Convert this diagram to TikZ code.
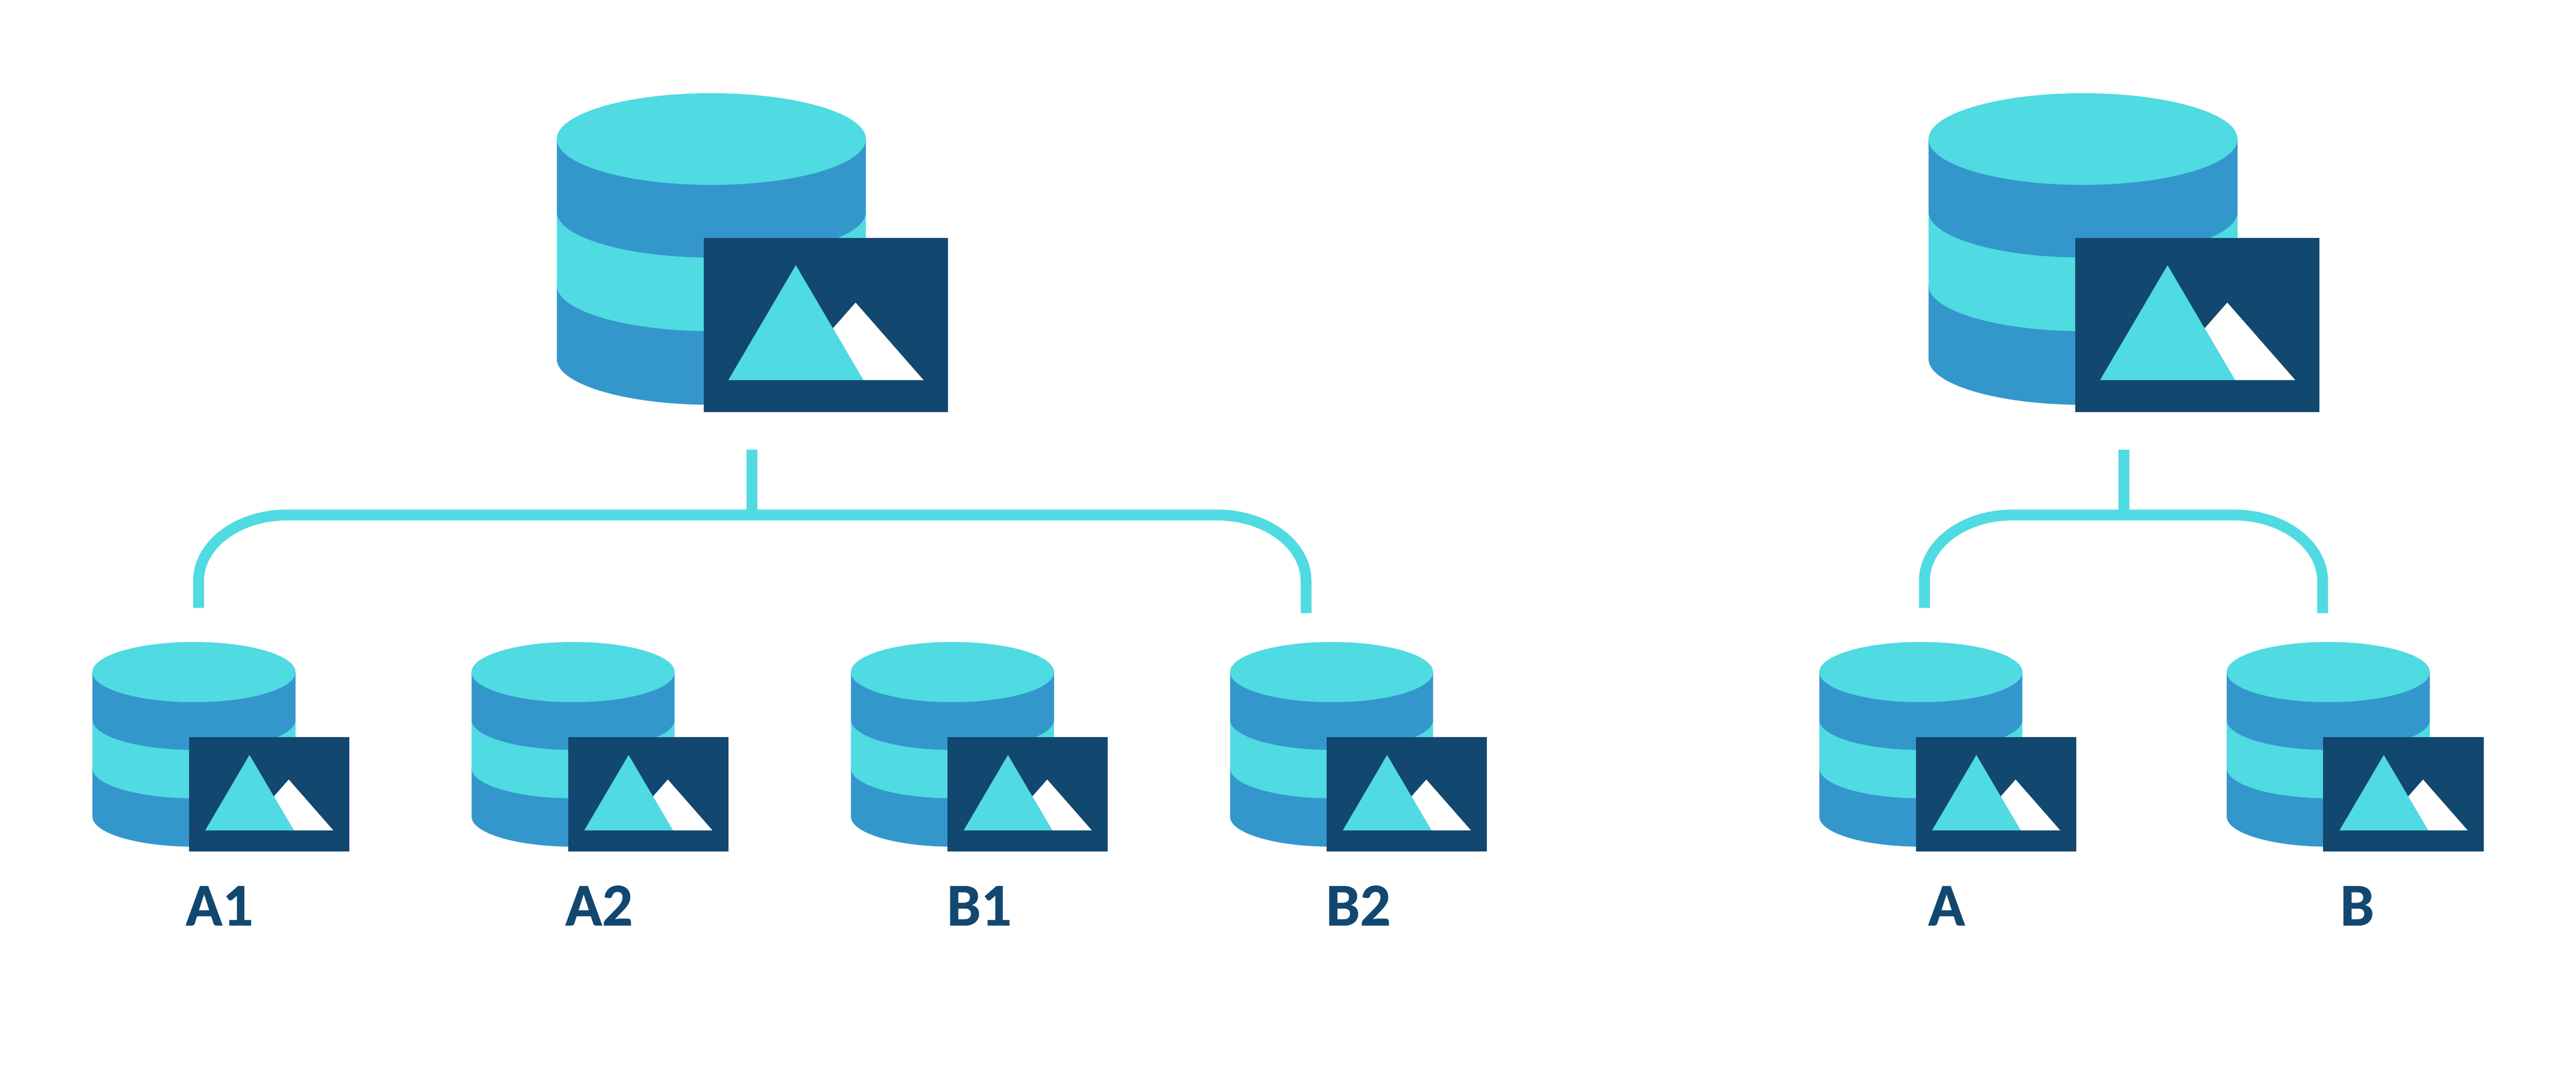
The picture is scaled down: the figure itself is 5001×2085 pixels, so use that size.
\documentclass[tikz,border=0pt]{standalone}
\usepackage{fontspec}
\setmainfont{Carlito}[BoldFeatures={FakeBold=0.6}]
\definecolor{teal}{HTML}{50DAE2}
\definecolor{midblue}{HTML}{3497CC}
\definecolor{navy}{HTML}{12476F}
\tikzset{
  conn/.style={draw=teal,line width=0.21cm,line cap=butt,line join=round},
  imgbox/.style={rectangle,fill=navy,draw=none,inner sep=0pt,outer sep=0pt,anchor=north west},
  lbl/.style={text=navy,font=\fontsize{33.5}{36}\selectfont\bfseries,anchor=base,inner sep=0pt}
}
\newcommand{\dbicon}[4]{%
\begin{scope}[shift={(#1,#2)},scale=#3]
  \fill[midblue] (0,427) .. controls (0,476) and (134,516) .. (300,516) .. controls (466,516) and (600,476) .. (600,427) -- (600,284) -- (0,284) -- cycle;
  \fill[teal] (0,284) .. controls (0,333) and (134,373) .. (300,373) .. controls (466,373) and (600,333) .. (600,284) -- (600,141) -- (0,141) -- cycle;
  \fill[midblue] (0,141) .. controls (0,190) and (134,230) .. (300,230) .. controls (466,230) and (600,190) .. (600,141) -- (600,0) -- (0,0) -- cycle;
  \fill[teal] (0,0) .. controls (0,-49) and (134,-89) .. (300,-89) .. controls (466,-89) and (600,-49) .. (600,0) .. controls (600,49) and (466,89) .. (300,89) .. controls (134,89) and (0,49) .. (0,0) -- cycle;
  \node[imgbox,minimum width=#3*4.74cm,minimum height=#3*3.384cm] (#4) at (285,191.6) {};
  \fill[white] (536,367.5) -- (580,317.5) -- (712,468) -- (595,468) -- cycle;
  \fill[teal] (464,245) -- (333,468) -- (595,468) -- cycle;
\end{scope}}
\begin{document}
\begin{tikzpicture}[x=0.01cm,y=-0.01cm]
\useasboundingbox (0,0) rectangle (5001,2085);
\fill[white] (0,0) rectangle (5001,2085);
% large icons
\dbicon{1081}{270}{1}{bigL}
\dbicon{3744}{270}{1}{bigR}
% small icons
\dbicon{179.5}{1305}{0.657}{a1}
\dbicon{915.5}{1305}{0.657}{a2}
\dbicon{1652}{1305}{0.657}{b1}
\dbicon{2388}{1305}{0.657}{b2}
\dbicon{3532}{1305}{0.657}{aa}
\dbicon{4323}{1305}{0.657}{bb}
% labels
\node[lbl] (la1) at (426,1797) {A1};
\node[lbl] (la2) at (1163,1797) {A2};
\node[lbl] (lb1) at (1901,1797) {B1};
\node[lbl] (lb2) at (2637,1797) {B2};
\node[lbl] (laa) at (3779,1797) {A};
\node[lbl] (lbb) at (4576,1797) {B};
% connector endpoints
\coordinate (s1t) at (1460,873);
\coordinate (s1b) at (1460,1000);
\coordinate (e1l) at (385.5,1180);
\coordinate (e1r) at (2535.5,1190.7);
\coordinate (s2t) at (4123,873);
\coordinate (s2b) at (4123,1000);
\coordinate (e2l) at (3736,1180);
\coordinate (e2r) at (4509,1190.7);
\draw[conn] (s1t) -- (s1b);
\draw[conn] (e1l) -- (385.5,1128) .. controls (385.5,1057.3) and (462.3,1000) .. (556.7,1000) -- (2363,1000) .. controls (2457.9,1000) and (2535.5,1057.3) .. (2535.5,1128) -- (e1r);
\draw[conn] (s2t) -- (s2b);
\draw[conn] (e2l) -- (3736,1128) .. controls (3736,1057.3) and (3812,1000) .. (3907,1000) -- (4337,1000) .. controls (4432,1000) and (4509,1057.3) .. (4509,1128) -- (e2r);
\end{tikzpicture}
\end{document}
